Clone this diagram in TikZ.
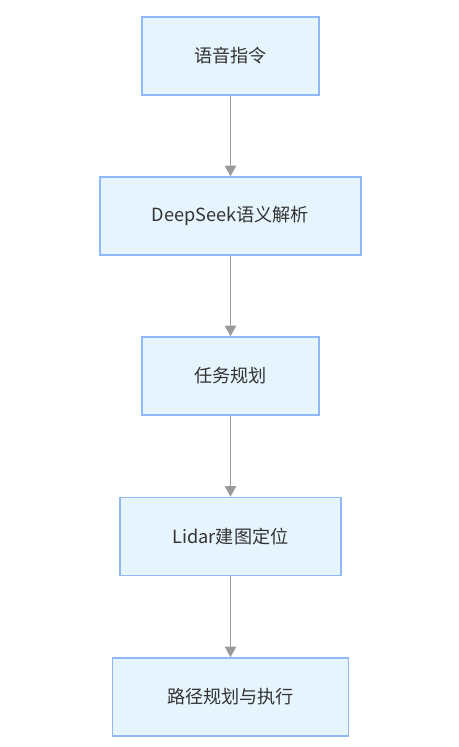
\documentclass[tikz,border=0pt]{standalone}
\usepackage{fontspec}
\setmainfont{Noto Sans CJK SC}
\usetikzlibrary{arrows.meta}
\definecolor{boxfill}{HTML}{E5F4FD}
\definecolor{boxline}{HTML}{8FB8F7}
\definecolor{flowgray}{HTML}{9A9A9A}
\definecolor{labeltext}{HTML}{333333}
\tikzset{
  stepbox/.style={draw=boxline, fill=boxfill, line width=1.1pt, minimum height=78*0.75pt, inner sep=0pt,
    text=labeltext, font=\fontsize{13.6}{16}\selectfont},
  flow/.style={draw=flowgray, line width=0.9pt, -{Triangle[width=8.5pt,length=8pt,fill=flowgray]}}
}
\begin{document}
\begin{tikzpicture}[x=0.75pt,y=0.75pt,yscale=-1,xscale=1]
\useasboundingbox (0,0) rectangle (458,747);

% Boxes
\node [stepbox, minimum width=177*0.75pt] (voice) at (230.5,56) {语音指令};
\node [stepbox, minimum width=261*0.75pt] (parse) at (230.5,216) {DeepSeek语义解析};
\node [stepbox, minimum width=177*0.75pt] (task) at (230.5,376) {任务规划};
\node [stepbox, minimum width=221*0.75pt] (lidar) at (230.5,536.5) {Lidar建图定位};
\node [stepbox, minimum width=236*0.75pt] (path) at (230.5,697) {路径规划与执行};

% Connectors
\draw [flow] (voice) -- (parse);
\draw [flow] (parse) -- (task);
\draw [flow] (task) -- (lidar);
\draw [flow] (lidar) -- (path);

\end{tikzpicture}
\end{document}
